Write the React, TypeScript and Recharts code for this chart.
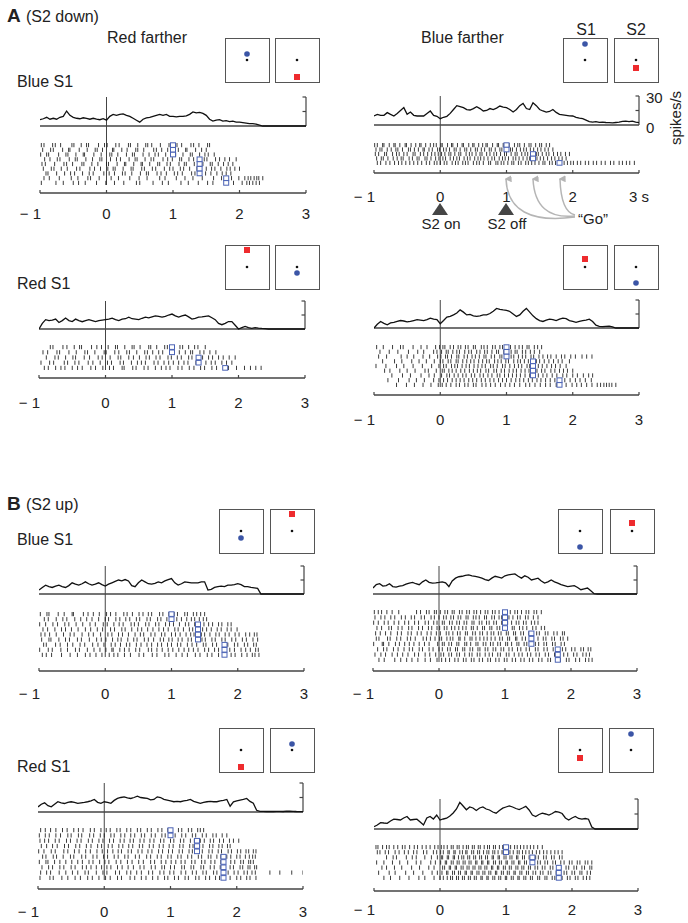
import React from 'react';
import { ComposedChart, ScatterChart, Line, Scatter, XAxis, YAxis, ReferenceLine } from 'recharts';

// ---------- PSTH time bins (s) ----------
const PSTH_T = [-1,-0.95,-0.9,-0.85,-0.8,-0.75,-0.7,-0.65,-0.6,-0.55,-0.5,-0.45,-0.4,-0.35,-0.3,-0.25,-0.2,-0.15,-0.1,-0.05,0,0.05,0.1,0.15,0.2,0.25,0.3,0.35,0.4,0.45,0.5,0.55,0.6,0.65,0.7,0.75,0.8,0.85,0.9,0.95,1,1.05,1.1,1.15,1.2,1.25,1.3,1.35,1.4,1.45,1.5,1.55,1.6,1.65,1.7,1.75,1.8,1.85,1.9,1.95,2,2.05,2.1,2.15,2.2,2.25,2.3,2.35,2.4,2.45,2.5,2.55,2.6,2.65,2.7,2.75,2.8,2.85,2.9,2.95,3];

// ---------- PSTH rates (spikes/s) ----------
const PSTH_AL1 = [6.5,7.5,9,7,8,7,9,10,15.5,11, 9,8,7.5,8.5,8,7,8,7,6.5,7.5, 6,10,12,11,12,12.5,11,10,8,6, 4,7,8.5,9,10,11,12,11,12,10, 10,9.5,10,10,10.5,12,14.5,13.5,14,13, 11,7,5,6,6.5,5,5.5,4.5,5,4, 4,3.5,3,2.5,2.4,2,1,0,0,0, 0,0,0,0,0,0,0,0,0,0, 0];
const PSTH_AR1 = [9.3,11,10,10,12.8,11,9.3,12,15,18, 11,13.4,10,9.3,9.5,9.3,12,14.5,10,9, 6.5,8,9,12,16,20,19,18,16,15.5, 17,19,17,14.5,15,17,16,17.5,19.6,18.5, 18,16,13.4,16,20,22.4,17,16,23,20, 16,14.5,13.4,14,16,13,11,10.5,10,9.5, 9.3,8,7,6.5,5,3.4,3,3.5,2.8,3, 2.6,2.4,2.2,2.6,3,3.8,4,3.5,4,3, 2.4];
const PSTH_AL2 = [0,6,10,9,9.5,10.6,7,9,11.7,9, 8,10.6,9,7.8,9,10,9,8,9,9.5, 10,10.5,11.7,10,9,10.5,11,12.7,11,10.5, 10,11.5,12.7,12,13,14,13.5,12.7,13.5,15, 16,14,12.7,14,15,13,10.6,11.5,12.7,13, 13.5,14,12,10,6,4.6,6,8,8,4, 0,1.5,2.8,1.5,0.7,1.5,1,0.7,0.5,0, 0,0,0,0,0,0,0,0,0,0, 0];
const PSTH_AR2 = [0,4,7,5,3.5,5.5,6,7,8,7.5, 6.5,7,8,9,8.5,8,9,10.6,9.5,9, 4.6,8,11.7,12.5,14,16,19.4,17,14,14.5, 13,12.4,13,14,14,15.5,18,21,20,19.4, 19,17.7,15,12.4,14,18,21,17,13,10, 8,7,8.5,9.5,9,8,9.5,10.6,10,8, 7,6,7,8,8.5,9.5,7,3,1.8,1.5, 1.8,2,1.2,0,0,0,0,0,0,0, 0];
const PSTH_BL3 = [4.2,7,9.5,8,7,8.5,9.5,8,7,9, 12,10.5,9.5,11,13,11,9.5,10.5,12,10, 8.5,10.5,12,13.5,15,14,15.5,14,9,7.8, 12,15,13,11,10.6,11.5,13,12,14,15.5, 16.6,12,9.5,11,13,12.5,12,12,12,13, 13,4.2,5,7,7.8,8.5,8,9.5,9.5,10, 11,10,8,7.8,7,6.5,6,0,0,0, 0,0,0,0,0,0,0,0,0,0, 0];
const PSTH_BR3 = [6.4,10,11,8.5,9,11,8,7.4,8.5,9, 10.5,11.7,12.4,11,10,13,15,12.5,11.7,12, 12.4,13,12,8,14,17,18.5,19,20,20.5, 19.5,19,18,17,15.5,14.5,17,19,18,17, 19.5,20.5,21,21.5,19,17,19.5,18,15,16, 17,14,11.7,13,15,13,11.7,10,9,8, 8.5,9,7,4.6,5.5,6.4,3.5,0.3,0,0, 0,0,0,0,0,0,0,0,0,0, 0];
const PSTH_BL4 = [5.3,8,9.5,6.5,5.3,8,10.6,9.5,8.8,10, 10.6,10,9,9.5,10,10.6,11.5,13,10,9, 10.6,10,9,12,14,15,15.7,14.5,14,15, 16.4,15,14.5,14,12.5,13,15.7,15,13,12.4, 11.5,10.6,11,10.6,11.5,12,13,11,10,9, 10,10.6,11,10.6,10.6,11.5,12,13,6,10.6, 11.5,12.4,13,14,11,9,1.8,0.7,0.7,0.5, 0.7,0.5,0.7,0.7,0.5,0.8,1,0.7,0.5,0.4, 0.3];
const PSTH_BR4 = [2.4,4,6.4,6,5.7,8,9.8,9.5,9,11, 12.5,9,9.5,9.8,7,4,11,12.5,10,14, 9,10,10.8,13,16,20,26.6,23,19.2,22, 21,18.5,21,22,20,19,17,15.8,18.5,20.9, 22,23,22,20.5,19.5,21,22.6,19,14,12.5, 14.5,15.8,15,14,15.5,17.5,16.8,15.5,11,9, 11,12.5,10.5,9.8,10.5,9.8,2,0,0,0, 0,0,0,0,0,0,0,0,0,0, 0];

// ---------- Rasters: spike times per trial (hundredths of s) ----------
const RASTER_AL1 = [
  "-98 -94 -81 -77 -69 -52 -49 -38 -30 -27 -12 -3 1 14 19 33 36 47 59 62 68 81 94 97 106 113 127 131 139 152 155",
  "-96 -84 -80 -66 -57 -55 -41 -29 -17 -14 -6 9 11 23 31 44 47 56 71 75 83 92 103 108 119 121 134 143 150",
  "-99 -90 -87 -72 -61 -58 -46 -35 -33 -19 -8 5 8 17 30 39 42 55 64 73 78 89 101 104 115 126 129 140 148 153 162",
  "-93 -85 -74 -70 -56 -47 -44 -31 -21 -10 -7 6 15 21 34 43 46 58 67 71 85 92 99 110 113 124 131 139 147 151 164 170 178 185 195",
  "-97 -92 -78 -64 -60 -51 -37 -34 -22 -13 0 3 16 27 29 41 52 54 65 77 80 91 96 109 117 120 132 137 145 156 159 168 176 183 190",
  "-95 -83 -79 -68 -59 -45 -40 -25 -18 -9 2 10 13 25 37 40 53 57 69 74 87 95 100 111 116 125 136 141 150 158 163 172 181 186 193 200",
  "-91 -88 -75 -63 -54 -48 -36 -26 -20 -4 4 12 24 28 38 51 60 63 76 82 90 102 107 114 128 133 142 149 157 166 174 180 187",
  "-94 -86 -71 -53 -43 -28 -24 -11 7 18 35 49 61 80 88 105 118 130 144 161 173 188 199 208 213 217 222 226 229 235",
  "-98 -76 -65 -50 -42 -32 -15 -1 12 26 45 50 70 84 93 112 123 138 152 160 178 191 204 211 215 220 225 230",
];
const GO_AL1 = [100,100,100,140,140,140,140,180,180];

const RASTER_AR1 = [
  "-99 -95 -87 -85 -77 -70 -68 -61 -53 -51 -44 -37 -31 -29 -22 -15 -10 -6 1 3 11 17 19 26 33 35 43 49 51 58 64 69 71 79 86 88 95 101 104 112 117 120 127 134 137 144 150 153 160 165",
  "-97 -91 -88 -80 -74 -67 -64 -57 -48 -45 -39 -33 -26 -24 -17 -12 -4 -1 5 9 14 21 24 30 37 40 46 53 56 62 67 74 77 83 90 93 99 106 109 115 121 126 130 136 141 147 152 158 163 170",
  "-98 -93 -84 -81 -72 -66 -62 -55 -50 -41 -38 -30 -25 -19 -13 -8 -3 2 7 13 16 22 28 31 39 44 48 54 60 63 70 75 81 85 91 97 100 107 113 116 123 128 132 139 145 148 154 160 164 171 177 182 189 195",
  "-96 -89 -86 -79 -71 -65 -59 -56 -47 -42 -35 -32 -23 -20 -14 -7 -2 4 8 15 20 25 29 36 41 45 52 57 61 66 72 78 82 89 94 98 103 110 114 119 125 131 135 140 146 151 156 162 168 173 179 184 190",
  "-95 -90 -82 -76 -69 -63 -58 -52 -46 -40 -34 -28 -21 -16 -9 -5 0 6 10 18 23 27 34 38 42 50 55 59 65 73 76 84 87 92 96 102 108 111 118 122 129 133 138 143 149 155 158 165 169 174 178 183 187 192 197 201 207 212 219 224 231 236 243 249 257 262 270 275 281 286 293",
];
const GO_AR1 = [100,100,140,140,180];

const RASTER_AL2 = [
  "-83 -79 -64 -58 -47 -39 -36 -21 -13 -6 4 15 18 29 40 43 52 65 68 77 89 93 101 112 116 125 134 139 150",
  "-94 -87 -73 -69 -55 -44 -31 -27 -16 -2 1 14 20 32 36 47 59 63 71 80 86 98 103 111 120 128 131 142 148 157 166",
  "-89 -76 -71 -60 -49 -45 -32 -24 -11 -5 7 19 23 35 42 51 61 66 76 82 94 99 108 114 125 130 139 146 155 161 170 177 186 195",
  "-97 -84 -78 -62 -57 -46 -40 -26 -19 -8 3 9 22 27 39 48 54 60 73 79 88 95 102 110 118 124 136 140 151 159 165 175 182 190",
  "-92 -86 -75 -67 -61 -50 -42 -35 -22 -15 -4 6 12 25 28 41 46 58 64 75 84 91 97 109 115 126 133 143 149 160 167 178 185 197 209 218 226 234",
];
const GO_AL2 = [100,100,140,140,180];

const RASTER_AR2 = [
  "-96 -86 -72 -60 -56 -41 -29 -20 -7 -1 4 7 15 20 27 31 38 42 50 53 62 66 71 79 83 90 94 102 106 113 119 124 131 134 142 147 153",
  "-91 -77 -64 -48 -34 -25 -10 -5 2 9 12 19 25 29 37 43 47 55 60 67 71 78 85 88 96 100 107 113 116 124 129 136 142 150",
  "-93 -81 -59 -50 -40 -26 -16 -4 1 8 11 17 25 28 36 41 48 53 59 66 69 77 82 90 93 101 107 111 118 124 129 137 141 149 155 162 167 175 183 188 197 204 214 221 229",
  "-87 -69 -58 -43 -32 -21 -9 0 4 12 16 24 27 34 40 46 51 58 64 70 74 82 87 92 99 103 111 117 121 127 133 139 145 150 157 164 171 178 184 195",
  "-97 -82 -66 -55 -41 -27 -13 -2 5 9 17 22 26 33 39 44 51 57 63 68 76 80 86 94 98 105 112 118 123 131 135 143 148 154 161 168 174 181 190",
  "-84 -76 -61 -50 -38 -23 -18 -6 3 6 13 18 24 31 37 44 50 56 61 69 73 81 85 92 97 104 110 115 122 128 134 141 146 153 158 167 173 180 186 192 200",
  "-73 -57 -45 -29 -17 -9 2 10 14 21 27 34 39 47 52 60 65 72 78 86 90 97 103 109 115 121 128 135 140 148 155 161 169 176 185 191 200 207 216 224 230",
  "-79 -63 -47 -36 -24 -10 -2 5 11 18 24 30 36 43 49 55 62 68 75 81 88 94 100 107 114 120 126 133 139 146 152 159 166 173 181 188 196 204 211 219 228",
  "-66 -51 -39 -26 -14 -3 3 9 16 24 29 37 42 50 54 63 69 76 83 91 98 105 112 120 129 135 143 151 159 166 175 183 190 199 206 213 221 229 237 242 247 251 255 259 265",
];
const GO_AR2 = [100,100,100,140,140,140,140,180,180];

const RASTER_BL3 = [
  "-98 -88 -85 -71 -62 -50 -48 -33 -26 -18 -9 2 8 16 28 33 41 51 57 65 70 82 87 96 104 109 120 124 133 138 144 150",
  "-92 -86 -74 -64 -58 -46 -37 -28 -20 -10 0 5 16 22 31 37 47 52 63 68 79 84 93 98 108 115 123 130 135 142 148 153",
  "-99 -90 -79 -72 -61 -55 -44 -34 -23 -15 -3 3 13 21 27 39 44 50 61 66 76 81 91 97 103 112 121 126 135 140 149 156 162 171 176 185 190",
  "-94 -87 -76 -66 -60 -51 -41 -30 -22 -12 -4 8 14 25 30 40 49 55 64 72 81 88 95 105 110 118 127 132 141 147 153 160 169 175 184 190 199",
  "-97 -91 -84 -74 -63 -53 -47 -35 -25 -18 -7 4 10 20 26 35 45 53 58 69 75 85 90 100 106 113 122 129 134 145 150 158 167 172 181 187 196 202 212 218 225 229",
  "-96 -85 -82 -70 -60 -54 -42 -36 -24 -13 -6 1 11 19 24 34 43 48 59 65 73 83 88 96 101 110 116 125 130 139 146 151 161 166 176 181 191 197 207 213 223 230",
  "-93 -89 -75 -68 -57 -49 -38 -31 -19 -11 -2 9 15 23 32 37 47 54 63 70 79 85 94 100 109 114 124 131 138 148 152 162 168 179 185 195 200 210 215 224 228",
  "-99 -86 -80 -67 -57 -45 -39 -27 -17 -8 1 10 12 22 29 36 46 52 65 70 78 86 95 102 111 119 126 133 140 150 156 165 171 180 188 195 205 212 219 227 231",
  "-95 -89 -81 -66 -53 -42 -30 -23 -14 -5 6 13 19 29 38 51 58 71 78 90 96 107 116 124 136 143 154 161 171 178 190 196 206 214 222 226 232",
];
const GO_BL3 = [100,100,140,140,140,140,180,180,180];

const RASTER_BR3 = [
  "-98 -92 -87 -79 -71 -61 -34 -28 -19 -15 -7 -4 2 9 13 20 23 31 35 42 46 53 57 63 70 74 81 85 91 98 102 108 115 119 125 132 136 144 148 155",
  "-97 -88 -82 -73 -67 -57 -51 -42 -37 -27 -22 -12 -7 0 7 11 18 22 29 33 41 44 52 56 61 69 72 80 84 91 95 103 106 112 119 123 131 135 143 150",
  "-99 -92 -83 -77 -68 -61 -52 -46 -37 -31 -21 -16 -8 -3 5 8 16 20 27 31 38 42 50 53 61 65 72 76 83 87 95 98 104 110 117 121 128 132 140 145 150",
  "-94 -87 -76 -72 -62 -56 -46 -41 -31 -25 -16 -11 -3 1 8 12 19 24 30 36 41 49 52 58 66 69 77 80 88 92 99 103 111 114 122 127 133 142 147 155 160",
  "-96 -89 -81 -73 -63 -57 -47 -42 -33 -27 -18 -12 -4 2 11 15 21 28 32 40 43 51 55 62 66 73 79 83 90 94 102 105 113 116 124 128 136 140 148 152 161 165 174 179 187 190",
  "-95 -91 -78 -74 -64 -58 -48 -43 -36 -24 -19 -13 -6 1 4 12 17 21 30 32 39 47 50 56 62 68 73 79 85 92 96 104 107 116 118 126 131 138 143 150 158 162 171 175 184 188 195",
  "-99 -86 -84 -76 -66 -60 -52 -45 -38 -30 -22 -15 -2 5 8 15 19 27 30 39 42 48 56 59 67 71 78 82 89 93 101 104 110 118 121 129 133 140 146 151 159 163 172 176 185 190",
  "-93 -84 -79 -69 -62 -53 -45 -40 -30 -25 -15 -9 0 5 13 17 25 28 36 39 47 51 59 62 70 74 82 86 94 98 106 111 119 124 132 137 146 150 159 164 173 178 187 192 201 206 215 219 226 230",
  "-97 -88 -81 -71 -63 -55 -47 -37 -31 -21 -14 -5 3 7 15 19 27 31 39 46 50 58 62 70 76 81 89 93 102 106 114 121 126 134 139 147 152 161 166 175 180 189 195 204 209 218 223 228",
  "-91 -83 -67 -58 -49 -41 -32 -21 -13 -3 4 10 16 24 29 37 41 49 53 61 66 74 78 86 91 99 103 111 116 124 129 137 142 151 156 165 169 178 184 193 197 207 213 222 227 232",
];
const GO_BR3 = [100,100,100,100,140,140,140,180,180,180];

const RASTER_BL4 = [
  "-96 -89 -81 -73 -63 -56 -46 -39 -32 -21 -15 -5 3 9 19 24 34 40 50 55 65 71 81 87 96 102 112 117 127 132 141 145 150",
  "-98 -89 -83 -73 -66 -55 -50 -39 -34 -22 -16 -6 0 10 15 25 31 40 46 56 61 71 77 87 92 102 107 117 123 133 138 148 154 164 169 178 185",
  "-97 -90 -84 -74 -68 -57 -51 -41 -35 -24 -18 -8 -2 8 14 24 30 39 44 54 60 69 75 85 90 100 105 115 120 130 136 145 151 160 165 174 180 189 195 203",
  "-95 -87 -78 -71 -60 -54 -43 -37 -27 -20 -10 -4 6 12 22 28 37 43 53 58 68 74 83 89 98 104 114 119 129 134 144 149 159 164 173 178 186 190",
  "-99 -91 -80 -74 -61 -55 -45 -38 -28 -21 -11 -3 5 13 21 26 36 41 51 57 66 72 82 88 97 103 113 118 128 133 143 148 158 163 172 177 187 192 201 206 214 218 225 229",
  "-93 -88 -77 -72 -62 -51 -46 -34 -28 -17 -11 -1 5 15 21 31 36 47 53 64 70 80 86 96 101 111 116 126 132 142 147 157 161 170 176 185 191 200 205 213 219 224 228",
  "-98 -88 -85 -75 -67 -58 -49 -40 -33 -23 -17 -7 1 7 18 25 35 42 52 59 70 76 86 93 101 108 116 122 132 137 147 152 161 167 176 182 191 197 206 210 218 221 225",
  "-94 -84 -78 -67 -61 -50 -44 -33 -27 -20 -12 -4 4 10 20 27 36 44 54 60 71 77 87 91 100 106 117 121 131 135 146 150 160 166 175 180 190 195 205 209 217 220 227 230",
  "-96 -87 -81 -68 -58 -48 -40 -29 -24 -12 -2 4 17 23 34 40 49 56 67 73 84 90 99 105 116 123 133 139 149 154 165 170 181 187 196 202 211 216 223 228 250 265 283 300",
  "-97 -82 -77 -64 -55 -44 -36 -25 -18 -8 2 9 20 26 39 46 56 63 73 81 91 96 106 112 122 127 138 143 153 159 168 174 183 190 200 206 215 220 229",
];
const GO_BL4 = [100,100,140,140,140,180,180,180,180,180];

const RASTER_BR4 = [
  "-97 -94 -87 -81 -77 -70 -64 -57 -53 -46 -39 -34 -27 -21 -15 -8 -3 2 6 11 17 20 26 29 35 40 43 49 52 58 61 67 72 75 81 84 90 95 98 104 107 113 117 122 127 132 137 142 148 155",
  "-95 -91 -83 -78 -68 -62 -54 -48 -40 -35 -25 -20 -10 -5 1 5 12 14 21 23 30 34 39 41 48 51 57 60 66 71 74 80 83 88 94 96 103 106 111 117 120 125 130 135 140 146 151 157 162 168 174 179 185",
  "-81 -71 -66 -51 -42 -36 -23 -13 -4 2 4 11 13 20 22 28 33 36 42 45 51 54 60 63 69 72 79 81 88 90 97 100 106 109 116 118 125 128 135 138 145 149 157 161 169 173 181 185",
  "-96 -85 -72 -61 -49 -36 -29 -14 -7 1 8 10 17 20 26 29 35 38 44 47 54 56 63 65 72 74 81 84 90 93 100 102 109 112 119 121 128 131 138 141 148 152 159 163 171 175 183 188 196 200 208 212 220 224 230",
  "-88 -81 -69 -58 -43 -31 -17 -9 4 7 14 16 23 25 32 35 41 44 50 53 59 62 68 71 78 80 87 89 96 99 105 108 115 118 124 127 134 137 144 148 155 159 167 171 179 183 191 195 203 207 215 219 227 230",
  "-93 -77 -68 -52 -40 -26 -12 -4 3 10 12 19 22 28 31 38 40 47 49 56 59 65 68 74 77 84 86 93 96 102 105 112 114 121 124 131 134 141 145 152 156 164 168 176 180 188 192 200 204 212 215 223 228",
  "-85 -75 -61 -47 -32 -23 -9 0 5 11 16 19 25 28 34 37 43 46 52 55 62 64 71 73 80 83 89 92 99 101 108 111 118 120 127 130 137 140 148 151 159 162 170 174 182 185 193 197 205 209 217 222 227",
];
const GO_BR4 = [100,100,140,140,180,180,180];

// ---------- Inset stimuli (S1 box, S2 box): colour and vertical offset from fixation ----------
const STIM_AL1 = [{ color: 'blue', y: 6 }, { color: 'red', y: -17 }];
const STIM_AR1 = [{ color: 'blue', y: 16 }, { color: 'red', y: -8 }];
const STIM_AL2 = [{ color: 'red', y: 17 }, { color: 'blue', y: -6 }];
const STIM_AR2 = [{ color: 'red', y: 8 }, { color: 'blue', y: -16 }];
const STIM_BL3 = [{ color: 'blue', y: -7 }, { color: 'red', y: 17 }];
const STIM_BR3 = [{ color: 'blue', y: -16 }, { color: 'red', y: 8 }];
const STIM_BL4 = [{ color: 'red', y: -17 }, { color: 'blue', y: 6 }];
const STIM_BR4 = [{ color: 'red', y: -8 }, { color: 'blue', y: 16 }];

const X_TICKS = [-1, 0, 1, 2, 3];

// ---------- layout (pixels) ----------
const LAYOUT: Record<string, any> = {
  AL1: { x0: 40, x3: 306, top: 97, base: 126, rTop: 143, rBot: 185, axisY: 193, labelDy: 26, ins: [225, 275, 38] },
  AR1: { x0: 374, x3: 639, top: 96, base: 125, rTop: 143, rBot: 165, axisY: 173, labelDy: 29, ins: [563, 614, 38] },
  AL2: { x0: 39, x3: 305, top: 301, base: 329, rTop: 345, rBot: 370, axisY: 378, labelDy: 30, ins: [225, 275, 245] },
  AR2: { x0: 374, x3: 639, top: 300, base: 328, rTop: 345, rBot: 387, axisY: 395, labelDy: 30, ins: [563, 614, 245] },
  BL3: { x0: 39, x3: 304, top: 566, base: 594, rTop: 612, rBot: 657, axisY: 671, labelDy: 28, ins: [219, 270, 509] },
  BR3: { x0: 373, x3: 637, top: 566, base: 594, rTop: 610, rBot: 662, axisY: 671, labelDy: 28, ins: [558, 610, 509] },
  BL4: { x0: 38, x3: 303, top: 783, base: 812, rTop: 828, rBot: 880, axisY: 889, labelDy: 28, ins: [219, 270, 728] },
  BR4: { x0: 374, x3: 638, top: 799, base: 829, rTop: 845, rBot: 880, axisY: 891, labelDy: 24, ins: [558, 609, 728] },
};

const PANELS = [
  { id: 'AL1', psth: PSTH_AL1, raster: RASTER_AL1, go: GO_AL1, stim: STIM_AL1 },
  { id: 'AR1', psth: PSTH_AR1, raster: RASTER_AR1, go: GO_AR1, stim: STIM_AR1, unit: true },
  { id: 'AL2', psth: PSTH_AL2, raster: RASTER_AL2, go: GO_AL2, stim: STIM_AL2 },
  { id: 'AR2', psth: PSTH_AR2, raster: RASTER_AR2, go: GO_AR2, stim: STIM_AR2 },
  { id: 'BL3', psth: PSTH_BL3, raster: RASTER_BL3, go: GO_BL3, stim: STIM_BL3 },
  { id: 'BR3', psth: PSTH_BR3, raster: RASTER_BR3, go: GO_BR3, stim: STIM_BR3 },
  { id: 'BL4', psth: PSTH_BL4, raster: RASTER_BL4, go: GO_BL4, stim: STIM_BL4 },
  { id: 'BR4', psth: PSTH_BR4, raster: RASTER_BR4, go: GO_BR4, stim: STIM_BR4 },
];

const FONT = '"Liberation Sans", Arial, Helvetica, sans-serif';
const TXT = '#222';
const AX = '#444';
const TICK = 4.2;
const ML = 26, MR = 12, MT = 4, XH = 44;

const AxisTick = (props: any) => {
  const { x, y, payload, labelDy, unit } = props;
  const v = payload.value;
  let label = v < 0 ? '\u2212 ' + Math.abs(v) : String(v);
  let anchor: any = 'middle';
  let tx = x;
  if (v < 0) { anchor = 'end'; tx = x + 1; }
  if (unit && v === 3) label = '3 s';
  return (
    <g>
      <line x1={x} x2={x} y1={y} y2={y - 3} stroke={AX} strokeWidth={1.2} />
      <text x={tx} y={y + labelDy} textAnchor={anchor} fontSize={15} fill={TXT} fontFamily={FONT}>{label}</text>
    </g>
  );
};

const spikeShape = (p: any) => (
  <line x1={p.cx} x2={p.cx} y1={p.cy - TICK / 2} y2={p.cy + TICK / 2} stroke="#1a1a1a" strokeWidth={0.85} />
);
const goShape = (p: any) => (
  <rect x={p.cx - 2.5} y={p.cy - 2.3} width={5} height={4.6} fill="#fff" stroke="#4b63b5" strokeWidth={1} />
);

function Panel({ cfg }: { cfg: any }) {
  const lay = LAYOUT[cfg.id];
  const plotW = lay.x3 - lay.x0;
  const plotH = lay.axisY - lay.top;
  const k = (lay.base - lay.top) / 30;
  const psthDomain = [30 - plotH / k, 30];
  const n = cfg.raster.length;
  const s = (lay.rBot - lay.rTop - TICK) / (n - 1);
  const rMin = -((lay.rTop + TICK / 2) - lay.top) / s;
  const rMax = rMin + plotH / s;
  const zeroBottom = -(lay.rBot - lay.base) / k;
  const tickUnit = 3.5 / (plotW / 4);

  const psthData = PSTH_T.map((t, i) => ({ t, r: cfg.psth[i] }));
  const spikes = cfg.raster.flatMap((row: string, i: number) =>
    row.trim().split(/\s+/).map((v) => ({ t: Number(v) / 100, row: i })));
  const goData = cfg.go.map((g: number, i: number) => ({ t: g / 100, row: i }));

  return (
    <div style={{ position: 'absolute', left: lay.x0 - ML, top: lay.top - MT }}>
      <ComposedChart width={ML + plotW + MR} height={MT + plotH + XH}
        margin={{ top: MT, left: ML, right: MR, bottom: 0 }}>
        <XAxis type="number" dataKey="t" domain={[-1, 3]} ticks={X_TICKS} interval={0}
          allowDataOverflow height={XH} tickSize={0} tickMargin={0} tickLine={false}
          axisLine={{ stroke: AX, strokeWidth: 1.5 }}
          tick={(p: any) => <AxisTick {...p} labelDy={lay.labelDy} unit={cfg.unit} />} />
        <YAxis yAxisId="psth" type="number" hide domain={psthDomain} allowDataOverflow />
        <YAxis yAxisId="raster" type="number" dataKey="row" hide reversed domain={[rMin, rMax]} allowDataOverflow />
        <ReferenceLine yAxisId="psth" y={0} stroke={AX} strokeWidth={1.5} />
        <ReferenceLine yAxisId="psth" segment={[{ x: 0, y: 30 }, { x: 0, y: zeroBottom }]} stroke={AX} strokeWidth={1} />
        <ReferenceLine yAxisId="psth" segment={[{ x: 3, y: 0 }, { x: 3, y: 30 }]} stroke={AX} strokeWidth={1.2} />
        <ReferenceLine yAxisId="psth" segment={[{ x: 3 - tickUnit, y: 30 }, { x: 3, y: 30 }]} stroke={AX} strokeWidth={1.2} />
        <ReferenceLine yAxisId="psth" segment={[{ x: 3 - tickUnit, y: 15 }, { x: 3, y: 15 }]} stroke={AX} strokeWidth={1.2} />
        <Line yAxisId="psth" data={psthData} dataKey="r" type="linear" dot={false}
          stroke="#111" strokeWidth={1.3} isAnimationActive={false} />
        <Scatter yAxisId="raster" data={spikes} shape={spikeShape} isAnimationActive={false} />
        <Scatter yAxisId="raster" data={goData} shape={goShape} isAnimationActive={false} />
      </ComposedChart>
    </div>
  );
}

const blueDot = (p: any) => <circle cx={p.cx} cy={p.cy} r={2.8} fill="#3b55a6" />;
const redSq = (p: any) => <rect x={p.cx - 3} y={p.cy - 3} width={6} height={6} fill="#ee2b2e" />;
const fixDot = (p: any) => <circle cx={p.cx} cy={p.cy} r={1.3} fill="#111" />;
const FIX = [{ x: 0, y: 0 }];

function InsetBox({ left, top, stim }: { left: number; top: number; stim: any }) {
  const pt = [{ x: 0, y: stim.y }];
  return (
    <div style={{ position: 'absolute', left, top, width: 45, height: 45, border: '1.5px solid #555', boxSizing: 'border-box', background: '#fff' }}>
      <ScatterChart width={42} height={42} margin={{ top: 0, right: 0, bottom: 0, left: 0 }}>
        <XAxis type="number" dataKey="x" domain={[-21, 21]} hide />
        <YAxis type="number" dataKey="y" domain={[-21, 21]} hide />
        <Scatter data={FIX} shape={fixDot} isAnimationActive={false} />
        <Scatter data={pt} shape={stim.color === 'blue' ? blueDot : redSq} isAnimationActive={false} />
      </ScatterChart>
    </div>
  );
}

export default function App() {
  return (
    <div style={{ position: 'absolute', left: 0, top: 0, width: 688, height: 923, background: '#fff', fontFamily: FONT, overflow: 'hidden' }}>
      {PANELS.map((p) => <Panel key={p.id} cfg={p} />)}
      {PANELS.map((p) => {
        const [x1, x2, y] = LAYOUT[p.id].ins;
        return (
          <React.Fragment key={p.id + 'ins'}>
            <InsetBox left={x1} top={y} stim={p.stim[0]} />
            <InsetBox left={x2} top={y} stim={p.stim[1]} />
          </React.Fragment>
        );
      })}
      <svg width={688} height={923} style={{ position: 'absolute', left: 0, top: 0, pointerEvents: 'none' }} fontFamily={FONT}>
        <defs>
          <marker id="ah" viewBox="0 0 10 10" refX="5" refY="2" markerWidth="7" markerHeight="7" orient="auto-start-reverse" markerUnits="userSpaceOnUse">
            <path d="M0,10 L5,0 L10,10 z" fill="#b5b5b5" />
          </marker>
        </defs>
        <text x={7} y={22} fontSize={19} fontWeight="bold" fill={TXT}>A</text>
        <text x={26} y={22} fontSize={16} fill={TXT}>(S2 down)</text>
        <text x={107} y={43} fontSize={16} fill={TXT}>Red farther</text>
        <text x={421} y={43} fontSize={16} fill={TXT}>Blue farther</text>
        <text x={586} y={35} fontSize={16} fill={TXT} textAnchor="middle">S1</text>
        <text x={636} y={35} fontSize={16} fill={TXT} textAnchor="middle">S2</text>
        <text x={17} y={87} fontSize={16} fill={TXT}>Blue S1</text>
        <text x={17} y={289} fontSize={16} fill={TXT}>Red S1</text>
        <text x={7} y={510} fontSize={19} fontWeight="bold" fill={TXT}>B</text>
        <text x={26} y={510} fontSize={16} fill={TXT}>(S2 up)</text>
        <text x={17} y={545} fontSize={16} fill={TXT}>Blue S1</text>
        <text x={17} y={772} fontSize={16} fill={TXT}>Red S1</text>

        <text x={646} y={103} fontSize={15} fill={TXT}>30</text>
        <text x={646} y={133} fontSize={15} fill={TXT}>0</text>
        <text transform="translate(681,118) rotate(-90)" fontSize={15} fill={TXT} textAnchor="middle">spikes/s</text>

        <path d="M440,203 L448,215 L432,215 Z" fill="#454545" />
        <path d="M506,203 L514,215 L498,215 Z" fill="#454545" />
        <text x={441} y={229} fontSize={15} fill={TXT} textAnchor="middle">S2 on</text>
        <text x={507} y={229} fontSize={15} fill={TXT} textAnchor="middle">S2 off</text>
        <text x={578} y={224} fontSize={15} fill={TXT}>“Go”</text>
        <path d="M575,217 Q508,226 506,179" fill="none" stroke="#b5b5b5" strokeWidth={1.5} markerEnd="url(#ah)" />
        <path d="M575,216 Q535,220 533,179" fill="none" stroke="#b5b5b5" strokeWidth={1.5} markerEnd="url(#ah)" />
        <path d="M575,215 Q561,212 560,179" fill="none" stroke="#b5b5b5" strokeWidth={1.5} markerEnd="url(#ah)" />
      </svg>
    </div>
  );
}
